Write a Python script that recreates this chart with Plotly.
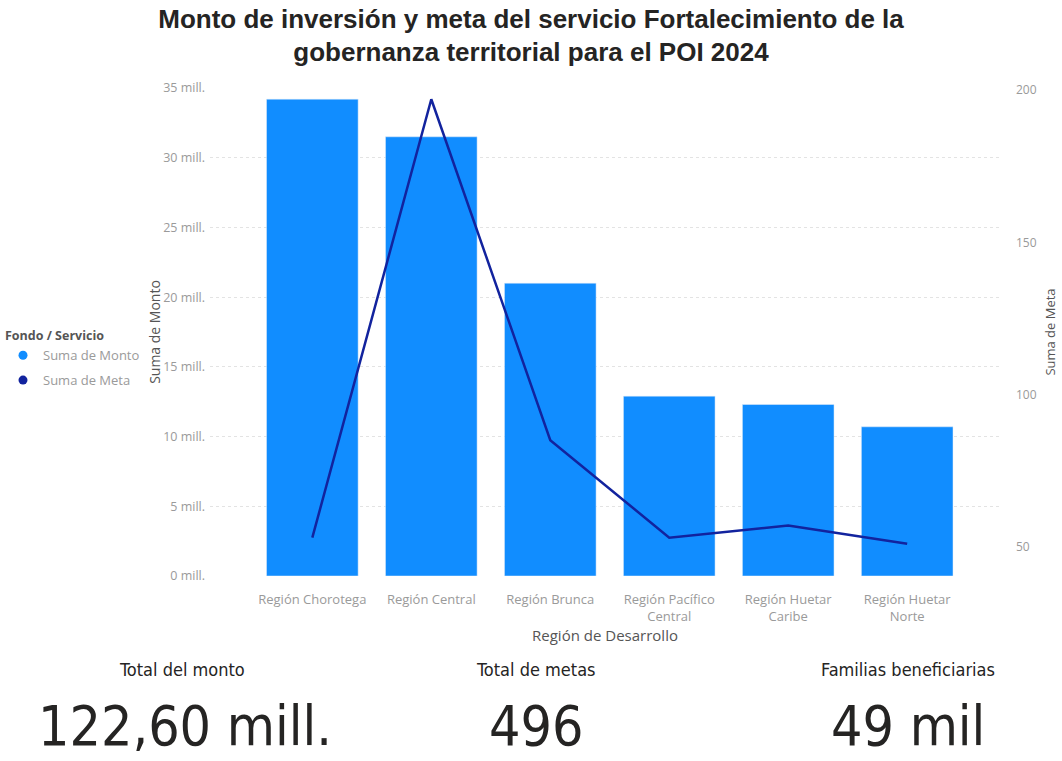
import plotly.graph_objects as go

regiones = ["Región Chorotega", "Región Central", "Región Brunca",
            "Región Pacífico<br>Central", "Región Huetar<br>Caribe", "Región Huetar<br>Norte"]
monto_mill = [34.2, 31.5, 21.0, 12.9, 12.3, 10.7]
meta = [53, 197, 85, 53, 57, 51]
familias_mil = 49

monto_ticks = [0, 5, 10, 15, 20, 25, 30, 35]
monto_ticktext = [f"{v} mill." for v in monto_ticks]
meta_ticks = [50, 100, 150, 200]

BAR = "#118DFF"
LINE = "#12239E"
TXT = "#252423"
TICK = "#9a9a9a"

W, H = 1062, 761
PL, PR, PT, PB = 210, 1000, 88, 576  # plot area in page px

fig = go.Figure()
fig.add_trace(go.Bar(x=regiones, y=monto_mill, marker_color=BAR, name="Suma de Monto",
                     showlegend=False, yaxis="y"))
fig.add_trace(go.Scatter(x=regiones, y=meta, mode="lines", line=dict(color=LINE, width=2.5),
                         name="Suma de Meta", showlegend=False, yaxis="y2"))
# legend entries (circle markers as in the original)
fig.add_trace(go.Scatter(x=[None], y=[None], mode="markers", marker=dict(color=BAR, size=9),
                         name="Suma de Monto", legendgroup="a"))
fig.add_trace(go.Scatter(x=[None], y=[None], mode="markers", marker=dict(color=LINE, size=9),
                         name="Suma de Meta", legendgroup="b"))

total_monto = sum(monto_mill)
total_metas = sum(meta)
big_font = "Liberation Sans Narrow, DejaVu Sans Condensed, Arial Narrow, sans-serif"


def cy(Y):  # page pixel y -> container y
    return 1 - Y / H


def cx(X):  # page pixel x -> container x
    return X / W


annotations = [
    dict(text="Total del monto", x=cx(182), y=cy(669)),
    dict(text="Total de metas", x=cx(536), y=cy(669)),
    dict(text="Familias beneficiarias", x=cx(908), y=cy(669)),
]
for a in annotations:
    a.update(font=dict(family=big_font, size=18, color=TXT))
bigs = [
    (f"{total_monto:.2f}".replace(".", ",") + " mill.", 185),
    (f"{total_metas}", 536),
    (f"{familias_mil} mil", 908),
]
for t, X in bigs:
    annotations.append(dict(text=t, x=cx(X), y=cy(726),
                            font=dict(family=big_font, size=55, color=TXT)))
for a in annotations:
    a.update(xref="paper", yref="paper", showarrow=False, xanchor="center", yanchor="middle")
    # convert container fractions to paper fractions of the fixed plot area
    a["x"] = (a["x"] * W - PL) / (PR - PL)
    a["y"] = (a["y"] * H - (H - PB)) / (PB - PT)

fig.update_layout(
    width=W, height=H,
    margin=dict(l=PL, r=W - PR, t=PT, b=H - PB, autoexpand=False),
    paper_bgcolor="white", plot_bgcolor="white",
    title=dict(text="Monto de inversión y meta del servicio Fortalecimiento de la<br>gobernanza territorial para el POI 2024",
               x=0.5, xanchor="center", xref="container", yref="container",
               y=cy(27.5), yanchor="middle",
               font=dict(family="Liberation Sans, Arial, sans-serif", size=26, color=TXT, weight="bold")),
    font=dict(family="Open Sans, sans-serif", color=TICK),
    bargap=0.23,
    xaxis=dict(type="category", range=[-0.86, 5.78], showgrid=False, showline=False, zeroline=False,
               automargin=False,
               ticks="", tickfont=dict(size=13, color=TICK), ticklabelstandoff=14,
               title=dict(text="Región de Desarrollo", font=dict(size=15, color="#555555"), standoff=2)),
    yaxis=dict(range=[0, 35], tickvals=monto_ticks, ticktext=monto_ticktext, automargin=False,
               showgrid=True, gridcolor="#e3e3e3", griddash="dot", gridwidth=1,
               zeroline=False, showline=False, ticks="", tickfont=dict(size=12.5, color=TICK),
               ticklabelstandoff=4,
               title=dict(text="Suma de Monto", font=dict(size=14, color="#555555"), standoff=18)),
    yaxis2=dict(range=[40.4, 200.7], overlaying="y", side="right", tickvals=meta_ticks, automargin=False,
                showgrid=False, zeroline=False, showline=False, ticks="",
                tickfont=dict(size=12, color=TICK), ticklabelstandoff=15,
                title=dict(text="Suma de Meta", font=dict(size=13, color="#555555"), standoff=10)),
    legend=dict(title=dict(text="<b>Fondo / Servicio</b>", font=dict(size=12.5, color="#555555")),
                xref="container", yref="container",
                x=cx(3), y=cy(324), xanchor="left", yanchor="top",
                font=dict(size=13, color=TICK), tracegroupgap=5, itemwidth=30,
                bgcolor="rgba(0,0,0,0)"),
    annotations=annotations,
)

fig.write_html("out.html", config={"displayModeBar": False},
               post_script="document.body.style.margin='0';")
